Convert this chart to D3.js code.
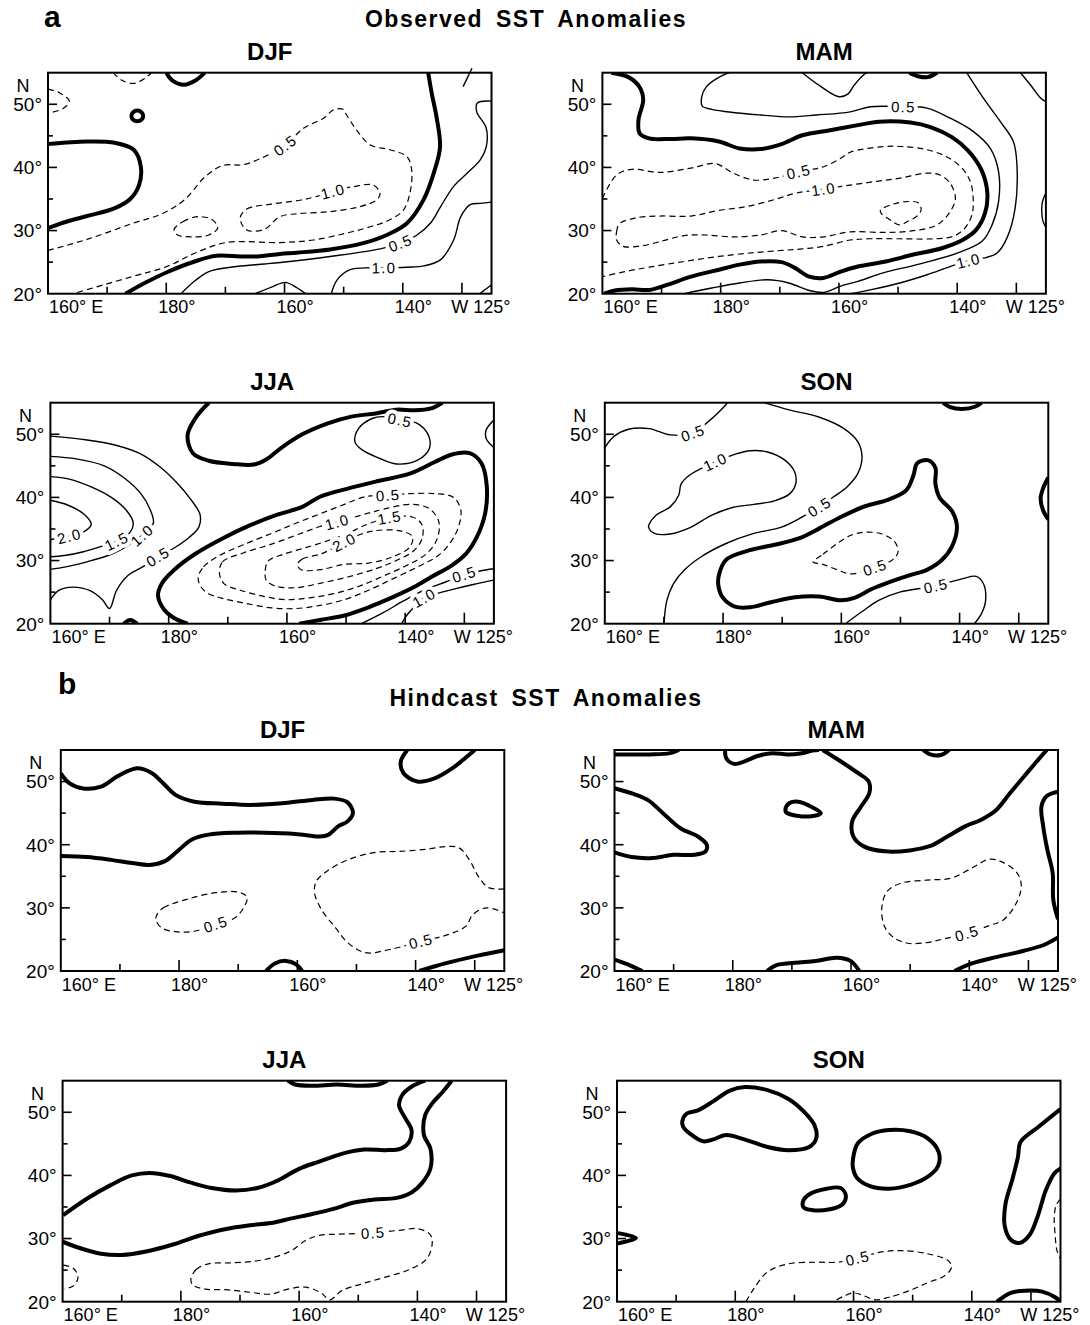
<!DOCTYPE html>
<html>
<head>
<meta charset="utf-8">
<script src="https://cdn.jsdelivr.net/npm/d3@7"></script>
<style>
body { margin: 0; background: #fff; }
svg text { font-family: "Liberation Sans", Arial, Helvetica, sans-serif; fill: #000; }
</style>
</head>
<body>
<svg width="1090" height="1325"></svg>
<script>
// contours, as [lon (deg E), lat (deg N)]
// kind: zero = heavy line, pos = thin solid, neg = dashed
var seasons = ["DJF", "MAM", "JJA", "SON"];
var lonLabelAt = [160, 180, 200, 220, 235];
var lonLabels = ["160\u00b0 E", "180\u00b0", "160\u00b0", "140\u00b0", "W 125\u00b0"];
var lonTicks = [170, 180, 190, 200, 210, 220, 230];
var latTicks = [25, 30, 35, 40, 45, 50];
var latLabels = [20, 30, 40, 50];

var obsDJF = [
  {kind: "neg", pts: [[171,55],[172.5,53.8],[174.5,53.3],[176.5,54.2],[177.5,55]]},
  {kind: "zero", pts: [[180,55],[181,53.8],[183,53.1],[185,53.8],[186.5,55]]},
  {kind: "neg", pts: [[160,52.4],[162,51.8],[163.6,50.5],[162.5,49.3],[160,48.6]]},
  {kind: "zero", closed: true, pts: [[175.1,49.0],[175.8,48.75],[176.1,48.15],[175.8,47.55],[175.1,47.3],[174.4,47.55],[174.1,48.15],[174.4,48.75]]},
  {kind: "zero", pts: [[160,43.7],[166.6,44.1],[171.3,43.9],[174.5,42.8],[175.7,40.1],[175.4,37.2],[173.9,35.0],[171.3,33.55],[166.6,32.3],[163.1,31.4],[160,30.4]]},
  {kind: "neg", label: "0.5", labelAt: [200.1,43.5], pts: [[160,26.85],[166.6,28.6],[174.2,31.1],[179.5,32.75],[183.1,34.9],[186.6,38.55],[189.5,40.3],[193.1,40.45],[196.6,41.7],[200.1,43.5],[203.2,46.2],[206.6,47.8],[208.25,49.1],[209.9,49.2],[210.5,48.3],[212.2,45.9],[214.5,43.55],[217.8,42.8],[220.7,41.7],[221.5,39.6],[221.2,35.9],[220.1,33.25],[217.8,31.7],[214.5,30.6],[210.5,29.6],[204.9,28.5],[199.2,28.1],[190.1,28.1],[184.8,26.4],[180.1,24.3],[174.2,22.7],[164.2,20]]},
  {kind: "neg", closed: true, label: "1.0", labelAt: [208.2,36.2], pts: [[192.5,31.96],[193.6,33.4],[197.8,34.2],[202.6,34.8],[205.4,35.4],[208.2,36.2],[211.6,36.95],[215.0,37.2],[216.15,35.9],[215.6,34.85],[212.8,33.8],[207.7,33.0],[202.6,32.7],[199.2,32.2],[196.6,30.2],[193.6,30.1]]},
  {kind: "neg", closed: true, pts: [[181.3,30.1],[182.8,31.4],[185.4,32.2],[187.8,31.7],[188.7,30.4],[187.2,29.3],[184.2,29.0],[181.9,29.3]]},
  {kind: "zero", pts: [[173.1,20],[176.6,21.8],[180.1,23.4],[184.8,25.1],[188.4,26.0],[192.5,25.9],[195.4,25.9],[199.2,26.3],[202.1,26.5],[207.7,27.0],[213.3,28.0],[217.3,29.3],[220.7,31.15],[223.5,34.85],[225.4,39.6],[226.3,43.3],[225.7,48.0],[224.9,51.7],[224.3,55]]},
  {kind: "pos", label: "0.5", labelAt: [219.6,28.0], pts: [[182.5,20],[184.8,22.0],[187.2,23.5],[191.9,24.3],[196.6,24.7],[199.3,24.95],[207.7,25.9],[216.2,27.1],[219.6,28.0],[222.4,29.3],[224.7,31.2],[226.4,33.8],[228.6,37.0],[230.9,39.1],[233.1,41.2],[234.1,43.2],[234.1,46.25],[232.5,48.8],[232.6,50.2],[235,50.5]]},
  {kind: "pos", label: "1.0", labelAt: [216.8,24.1], pts: [[207.9,20],[208.9,22.2],[211.1,23.8],[214.5,24.1],[216.8,24.1],[220.7,24.2],[223.5,24.4],[226.4,25.4],[228.6,28.5],[229.8,32.2],[231.4,34.1],[233.1,34.3],[235,34.5]]},
  {kind: "pos", pts: [[195,20],[197.8,21.05],[200.1,21.8],[201.9,21.05],[203.6,20]]},
  {kind: "pos", pts: [[233,20],[234,20.7],[235,21.4]]},
  {kind: "pos", noclip: true, pts: [[230.2,52.8],[231.7,55.7]]}
];

var obsMAM = [
  {kind: "zero", pts: [[161.5,55],[164.4,54.3],[166.3,52.7],[166.9,50.7],[166.1,47.5],[166.3,45.4],[167.9,44.6],[171.5,44.5],[175.0,44.6],[179.7,44.1],[183.2,43.0],[186.8,42.9],[190.3,43.7],[193.8,45.1],[198.5,45.9],[203.2,46.7],[206.8,47.25],[212.1,47.1],[215.6,46.35],[219.1,44.8],[221.8,42.7],[224.1,39.6],[225.1,35.9],[224.7,32.75],[223.2,30.1],[220.9,28.5],[217.4,27.2],[212.6,26.2],[207.9,25.1],[203.2,24.3],[200.3,23.5],[197.4,22.5],[195.0,22.7],[192.6,24.05],[190.3,25.0],[186.8,25.1],[183.2,24.6],[179.7,23.8],[175.0,22.7],[170.9,21.4],[167.9,20.6],[165.0,20.7],[162.1,20.5],[160.3,20]]},
  {kind: "pos", label: "0.5", labelAt: [210.9,49.6], pts: [[181.5,55],[179.4,54.1],[177.6,52.8],[176.8,51.2],[176.9,49.7],[178.5,49.2],[182.1,48.7],[186.8,48.3],[191.5,48.0],[196.2,48.3],[201.9,48.8],[205.3,49.6],[210.9,49.6],[214.9,49.4],[218.8,47.8],[222.7,45.7],[225.6,43.0],[227.0,39.3],[227.0,34.6],[225.9,30.9],[224.2,28.3],[219.9,26.4],[213.2,24.6],[207.5,23.3],[203.2,21.95],[200.3,21.2],[197.4,20.2],[195.0,20.5],[191.5,21.7],[187.9,22.2],[183.2,21.7],[178.5,20.9],[173.8,20]]},
  {kind: "pos", label: "1.0", labelAt: [221.9,25.2], pts: [[221.6,55],[224.4,51.0],[227.3,47.25],[229.5,44.1],[230.1,40.4],[229.8,33.55],[228.4,28.8],[226.7,26.4],[225.0,25.75],[221.9,25.2],[218.8,24.3],[214.9,23.0],[210.3,21.7],[205.3,20.6],[202,20]]},
  {kind: "pos", pts: [[193.8,55],[196.8,52.9],[200.0,51.2],[201.5,51.6],[202.6,53.05],[204.1,54.6],[204.7,55]]},
  {kind: "zero", pts: [[211.9,55],[213.5,54.4],[215,54.3],[216.6,55]]},
  {kind: "pos", pts: [[230.7,55],[232.4,53.05],[234.1,51.0],[235,50.4]]},
  {kind: "pos", pts: [[235,36],[234.4,34.5],[234.3,33],[234.5,31.5],[235,30.5]]},
  {kind: "neg", label: "0.5", labelAt: [193.2,39.3], pts: [[160,35.1],[162.4,38.8],[165.0,39.7],[169.7,39.2],[175.0,39.9],[179.1,40.6],[182.1,39.1],[185.6,38.0],[189.1,38.3],[193.2,39.3],[197.4,40.1],[200.3,41.45],[201.9,42.4],[207.5,43.3],[210.9,43.3],[214.9,42.8],[218.2,41.7],[220.8,39.9],[222.2,37.8],[222.7,35.1],[222.5,32.5],[221.3,30.4],[219.4,29.1],[216.0,28.7],[210.3,28.7],[205.3,28.7],[201.9,28.5],[197.4,27.5],[193.8,27.1],[190.3,26.85],[185.6,26.5],[179.7,25.9],[173.8,25.1],[167.9,24.2],[163.8,23.5],[160,22.7]]},
  {kind: "neg", closed: true, label: "1.0", labelAt: [197.4,36.55], pts: [[162.4,28.5],[162.4,29.8],[162.9,31.1],[165.6,32.0],[169.7,32.3],[175.0,32.3],[179.7,33.2],[184.4,33.8],[189.1,34.9],[192.6,35.9],[197.4,36.55],[201.9,37.2],[206.4,37.8],[210.3,38.3],[214.9,39.1],[217.1,38.8],[218.8,37.5],[219.7,35.1],[218.8,33.0],[216.6,30.9],[212.0,29.9],[207.5,29.7],[201.9,29.8],[197.4,29.0],[193.8,29.0],[190.3,30.0],[186.8,29.3],[182.1,29.0],[177.4,29.3],[173.8,29.2],[170.3,28.4],[166.8,27.6],[163.5,27.5]]},
  {kind: "neg", closed: true, pts: [[207.0,33.2],[209.2,34.2],[211.75,34.6],[213.4,34.4],[213.9,33.3],[213.2,32.3],[211.5,31.4],[210.2,30.9],[208.65,31.7],[207.25,32.6]]}
];

var obsJJA = [
  {kind: "zero", pts: [[186.8,55],[184.7,52.8],[183.2,49.9],[184.1,47.0],[186.8,45.8],[190.9,45.3],[194.4,45.2],[196.5,46.0],[199.1,47.9],[202.6,50.0],[206.8,51.7],[210.9,52.8],[215.0,53.3],[218.5,53.9],[221.5,53.8],[224.4,54.1],[226.3,55]]},
  {kind: "zero", pts: [[183.2,20],[180.9,20.9],[179.1,22.4],[178.2,24.5],[178.8,26.3],[180.9,28.5],[184.4,31.0],[189.1,33.5],[193.8,35.6],[198.5,37.3],[202.6,38.5],[205.6,40.1],[210.3,41.4],[215.0,42.5],[220.9,43.8],[225.0,45.6],[227.9,46.8],[230.9,47.0],[232.9,45.4],[233.8,41.7],[233.5,37.4],[232.1,33.7],[230.3,31.1],[227.9,29.25],[224.4,27.4],[221.5,25.8],[217.9,24.2],[213.8,22.6],[209.7,21.3],[205.6,20.6],[202.1,20]]},
  {kind: "zero", pts: [[172.4,20],[173.5,20.6],[174.7,20]]},
  {kind: "pos", closed: true, label: "0.5", labelAt: [219.1,52.25], pts: [[211.5,48.8],[212.1,50.9],[214.4,52.5],[216.2,52.8],[219.1,52.25],[222.1,51.7],[223.9,49.9],[224.1,47.8],[222.1,45.9],[218.5,45.3],[215.6,46.2],[212.6,47.6]]},
  {kind: "pos", pts: [[235,52.25],[233.7,50.7],[233.7,49.3],[235,47.9]]},
  {kind: "pos", label: "0.5", labelAt: [178.2,30.6], pts: [[160,49.7],[166.2,49.1],[170.9,48.3],[175.0,47.0],[178.5,44.85],[181.5,42.2],[183.8,39.6],[185.3,37.3],[185.1,35.3],[183.5,33.7],[181.2,32.15],[178.2,30.6],[175.6,29.0],[173.2,27.7],[171.2,25.3],[170.0,22.4],[168.8,23.8],[166.8,25.2],[163.8,25.8],[161.5,25.3],[160.3,24.2],[160,23.7]]},
  {kind: "pos", label: "1.0", labelAt: [175.5,34.0], pts: [[160,46.5],[164.4,46.1],[169.1,45.0],[172.6,43.0],[175.3,40.6],[176.9,38.0],[177.4,35.9],[175.5,34.0],[173.2,32.4],[170.3,31.0],[166.2,29.8],[162.6,29.0],[160,28.6]]},
  {kind: "pos", label: "1.5", labelAt: [171.2,33.05], pts: [[160,43.3],[163.2,42.9],[166.8,41.7],[170.3,40.0],[172.8,38.0],[174.0,36.0],[173.5,34.5],[171.2,33.05],[168.5,32.2],[165.6,31.4],[162.4,30.8],[160,30.6]]},
  {kind: "pos", label: "2.0", labelAt: [163.2,33.85], pts: [[160,39.55],[162.9,38.8],[165.6,37.4],[166.9,35.75],[165.9,34.7],[163.2,33.85],[160.9,33.5],[160,33.3]]},
  {kind: "neg", closed: true, label: "0.5", labelAt: [217.1,40.35], pts: [[185.0,27.4],[185.9,29.0],[188.2,30.6],[192.6,32.5],[197.4,34.3],[201.5,35.9],[205.6,37.4],[209.7,38.9],[213.2,40.1],[217.1,40.35],[220.9,40.6],[225.0,40.6],[228.2,40.0],[229.4,38.0],[229.1,35.6],[227.9,33.2],[225.6,30.8],[222.1,29.0],[217.9,27.1],[213.8,25.3],[209.7,23.8],[205.6,22.9],[201.5,22.4],[197.4,22.5],[192.6,23.3],[189.1,24.0],[186.5,24.9],[185.3,26.1]]},
  {kind: "neg", closed: true, label: "1.0", labelAt: [208.5,36.1], pts: [[188.6,27.9],[189.1,29.8],[192.6,31.2],[197.4,32.6],[202.1,34.2],[205.6,35.4],[208.5,36.1],[212.6,37.2],[216.2,38.1],[220.9,38.9],[224.1,38.2],[225.7,36.1],[225.3,33.2],[223.5,31.0],[220.3,29.25],[216.2,27.5],[212.1,25.9],[207.9,24.75],[203.8,24.1],[199.7,23.8],[196.2,24.3],[192.1,25.3],[189.4,26.3]]},
  {kind: "neg", closed: true, label: "1.5", labelAt: [217.35,36.8], pts: [[196.3,27.9],[196.8,29.9],[199.4,31.0],[203.2,32.05],[207.1,33.2],[210.3,34.3],[213.2,35.6],[217.35,36.8],[221.2,36.9],[222.8,35.75],[222.9,33.6],[221.5,31.6],[218.5,30.0],[215.0,28.7],[210.3,27.4],[205.6,26.4],[201.5,25.7],[197.9,26.0],[196.5,26.9]]},
  {kind: "neg", closed: true, label: "2.0", labelAt: [209.7,32.9], pts: [[201.8,29.4],[202.6,30.25],[205.9,31.1],[209.7,32.9],[212.6,34.2],[215.6,34.8],[219.1,34.7],[221.2,33.85],[220.8,32.15],[217.9,30.6],[213.8,29.6],[209.7,29.4],[205.6,28.55],[202.4,28.55]]},
  {kind: "pos", label: "0.5", labelAt: [230.0,27.8], pts: [[212.6,20],[216.2,21.7],[219.7,23.6],[223.2,25.3],[226.8,26.6],[230.0,27.8],[232.6,28.35],[235,28.7]]},
  {kind: "pos", label: "1.0", labelAt: [223.2,24.1], pts: [[219.4,20],[220.4,21.5],[221.8,22.9],[223.2,24.1],[225.3,24.75],[227.9,25.4],[231.5,26.2],[235,26.9]]}
];

var obsSON = [
  {kind: "pos", label: "0.5", labelAt: [174.9,50.2], pts: [[160,47.9],[161.6,49.7],[164.0,50.8],[167.5,50.9],[171.05,49.9],[174.9,50.2],[177.5,52.0],[179.6,53.8],[180.75,55]]},
  {kind: "pos", label: "0.5", labelAt: [196.3,38.5], pts: [[186.9,55],[191.0,53.9],[196.3,52.7],[200.45,50.9],[202.8,48.8],[203.5,46.4],[202.8,43.8],[201.0,41.7],[198.7,40.1],[196.3,38.5],[193.4,36.9],[189.9,35.3],[185.2,34.3],[180.5,32.7],[176.3,30.6],[173.4,28.45],[171.6,26.3],[170.5,23.7],[170.0,20]]},
  {kind: "pos", closed: true, label: "1.0", labelAt: [178.7,45.6], pts: [[167.5,35.75],[168.7,37.2],[171.05,38.5],[172.5,40.35],[172.9,42.1],[174.3,43.5],[178.7,45.6],[182.2,46.9],[184.6,47.4],[187.5,47.2],[190.45,45.9],[192.1,44.05],[192.3,42.2],[191.3,40.6],[188.7,39.45],[185.2,38.9],[181.6,38.4],[178.1,37.2],[174.6,35.3],[171.05,34.2],[168.4,34.3],[167.4,35.3]]},
  {kind: "zero", closed: true, pts: [[179.3,27.7],[180.5,30.1],[184.0,31.5],[188.7,32.5],[192.8,33.5],[196.3,35.1],[199.9,36.9],[204.0,38.6],[208.1,39.7],[211.0,41.15],[212.2,43.5],[212.8,45.4],[214.6,45.9],[215.9,44.7],[215.9,42.2],[216.6,40.0],[218.8,37.7],[219.55,35.3],[218.7,32.2],[216.9,30.0],[214.3,28.45],[211.6,27.7],[208.1,26.6],[205.15,25.5],[202.2,24.1],[199.9,23.7],[196.3,24.3],[192.2,24.2],[188.1,23.4],[184.6,22.6],[182.0,22.7],[179.9,24.2],[179.2,26.1]]},
  {kind: "neg", closed: true, label: "0.5", labelAt: [205.7,28.9], pts: [[195.2,29.8],[196.9,31.0],[199.3,32.7],[201.6,34.0],[204.0,34.5],[206.9,34.2],[209.0,33.0],[209.6,31.4],[208.7,30.15],[205.7,28.9],[201.6,27.9],[199.3,28.55],[196.9,29.4]]},
  {kind: "pos", label: "0.5", labelAt: [216.0,26.0], pts: [[200.7,20],[203.4,21.85],[206.3,23.7],[209.85,25.0],[216.0,26.0],[220.4,27.1],[222.8,27.5],[224.0,26.4],[224.4,23.7],[223.7,21.6],[222.5,20]]},
  {kind: "zero", pts: [[217.2,55],[218.4,54.3],[220.4,54.0],[222.7,54.4],[223.7,55]]},
  {kind: "zero", pts: [[235,43.15],[234.1,41.4],[233.7,39.8],[234.1,38.0],[235,36.5]]}
];

var hindDJF = [
  {kind: "zero", pts: [[160,51.3],[161.5,49.7],[163.8,48.9],[166.8,49.2],[169.7,50.9],[172.9,52.1],[175.3,51.4],[177.35,49.7],[179.4,47.9],[182.6,46.8],[187.35,46.5],[192.05,46.3],[197.9,46.6],[202.6,47.1],[206.2,47.3],[208.5,46.7],[209.4,45.0],[208.5,43.7],[206.9,42.9],[205.3,41.6],[203.8,41.3],[199.7,41.7],[194.4,41.9],[189.7,41.9],[185.0,41.6],[182.1,40.8],[179.7,38.95],[177.6,37.4],[175.0,36.8],[172.05,37.1],[168.5,37.6],[164.4,38.05],[160,38.2]]},
  {kind: "zero", pts: [[218.6,55],[217.5,53.2],[217.9,51.4],[220.3,50.0],[223.2,50.5],[226.2,52.1],[228.5,53.8],[230,55]]},
  {kind: "zero", pts: [[194.7,20],[196.2,21.2],[198.1,21.6],[199.8,21.05],[200.8,20]]},
  {kind: "zero", pts: [[220.6,20],[225.0,21.2],[230.3,22.4],[235,23.3]]},
  {kind: "neg", closed: true, label: "0.5", labelAt: [186.2,27.4], pts: [[176.2,28.8],[177.35,30.0],[181.5,31.4],[186.2,32.4],[190.0,32.5],[191.5,31.7],[190.9,30.0],[189.4,28.4],[186.2,27.4],[182.6,26.3],[179.7,26.2],[177.1,26.8],[176.1,28.05]]},
  {kind: "neg", label: "0.5", labelAt: [220.9,24.7], pts: [[235,33.0],[232.35,33.2],[230.6,35.0],[229.1,37.6],[227.35,39.5],[225.0,39.7],[222.05,39.3],[217.35,38.95],[213.2,38.8],[208.5,37.6],[205.0,35.8],[203.2,34.2],[202.9,32.4],[204.1,29.7],[206.5,26.8],[208.5,24.5],[211.5,22.9],[215.6,23.4],[220.9,24.7],[225.6,25.8],[228.5,27.1],[229.7,28.95],[232.05,30.0],[235,29.2]]}
];

var hindMAM = [
  {kind: "zero", pts: [[160,54.3],[165.9,54.3],[169.4,54.5],[170.9,55]]},
  {kind: "zero", pts: [[178.7,55],[178.9,53.7],[180.2,52.8],[182.0,53.2],[184.2,54.05],[186.7,54.5],[189.3,54.3],[191.7,54.5],[193.45,54.9],[194.6,55]]},
  {kind: "zero", pts: [[195.2,55],[198.1,53.3],[201.1,51.4],[203.0,50.0],[203.1,48.2],[201.7,46.05],[200.2,43.7],[200.4,41.3],[202.25,39.7],[205.8,38.95],[209.9,39.1],[213.4,39.8],[216.3,41.3],[219.3,42.9],[222.2,44.05],[224.55,45.5],[226.9,48.2],[229.25,50.8],[231.6,53.4],[233.1,55]]},
  {kind: "zero", pts: [[160,48.95],[163.2,48.05],[165.6,47.1],[168.2,45.0],[171.15,42.6],[174.1,41.3],[175.6,40.0],[175.4,38.95],[173.5,38.4],[170.0,38.4],[166.5,37.9],[162.9,38.05],[160,38.8]]},
  {kind: "zero", closed: true, pts: [[188.9,45.6],[189.6,46.6],[191.1,46.8],[193.2,46.05],[194.9,45.0],[193.3,44.5],[190.8,44.6],[189.05,45.1]]},
  {kind: "zero", pts: [[235,48.4],[233.1,47.7],[232.2,46.05],[232.5,42.9],[233.2,39.2],[234.1,35.5],[234.2,31.3],[235,28.2]]},
  {kind: "zero", pts: [[217.5,20],[220.45,21.2],[224.55,22.2],[229.25,23.2],[232.8,24.2],[235,25.3]]},
  {kind: "zero", pts: [[185.8,20],[187.3,20.9],[190.5,21.3],[194.0,21.6],[197.6,22.1],[199.9,21.6],[201.4,20]]},
  {kind: "zero", pts: [[160,21.8],[162.6,20.9],[164.7,20]]},
  {kind: "zero", pts: [[212.2,55],[213.4,54.3],[215.2,54.2],[216.6,55]]},
  {kind: "neg", closed: true, label: "0.5", labelAt: [219.6,25.95], pts: [[205.2,30.0],[206.1,32.6],[208.4,33.9],[212.8,34.4],[216.9,34.7],[220.45,36.3],[223.4,37.7],[225.7,37.2],[228.1,35.5],[228.8,33.4],[227.8,30.5],[225.7,28.05],[223.4,27.2],[219.6,25.95],[215.75,25.1],[212.8,24.5],[209.6,24.4],[207.2,25.3],[205.65,27.1]]}
];

var hindJJA = [
  {kind: "zero", pts: [[160.1,33.7],[164.1,36.3],[168.2,38.5],[171.7,40.0],[174.7,40.4],[178.2,39.9],[181.7,38.85],[185.2,38.0],[189.3,37.6],[192.9,38.0],[196.4,39.2],[199.9,41.0],[203.4,42.2],[207.5,43.5],[211.05,44.1],[214.6,44.0],[217.2,44.25],[218.6,45.3],[219.0,47.2],[218.0,49.0],[216.9,51.1],[217.4,52.7],[219.0,54.05],[221.3,55]]},
  {kind: "zero", pts: [[160,29.5],[162.9,28.5],[166.5,27.6],[170.0,27.4],[174.1,27.95],[178.8,29.1],[182.9,30.4],[187.0,31.4],[191.7,32.1],[195.2,32.45],[198.7,33.2],[202.25,33.9],[205.8,34.7],[209.3,35.7],[212.8,36.2],[216.3,36.4],[219.0,37.3],[220.7,38.7],[222.2,41.1],[222.2,44.25],[221.1,46.4],[221.3,49.5],[222.5,51.4],[224.3,53.25],[225.8,55]]},
  {kind: "zero", pts: [[198.1,55],[199.3,54.4],[202.25,54.2],[206.4,54.4],[210.5,54.2],[213.4,54.4],[214.9,55]]},
  {kind: "neg", closed: true, label: "0.5", labelAt: [212.5,30.9], pts: [[181.7,23.6],[182.6,25.1],[184.65,26.0],[188.2,26.15],[192.3,26.4],[195.8,27.05],[198.7,28.1],[201.1,29.7],[203.4,30.5],[206.9,30.7],[212.5,30.9],[216.9,31.3],[220.15,31.55],[222.2,30.6],[222.5,29.2],[221.6,26.8],[218.7,25.1],[214.6,23.9],[210.5,22.8],[207.2,21.75],[205.2,20.3],[203.7,21.4],[201.1,22.3],[198.1,22.0],[195.2,21.2],[191.7,21.5],[187.6,21.9],[184.1,22.0],[182.0,22.65]]},
  {kind: "neg", pts: [[160.1,25.8],[161.8,25.3],[162.6,23.9],[161.9,22.55],[160.3,22.0]]}
];

var hindSON = [
  {kind: "zero", closed: true, pts: [[171.05,48.6],[171.8,49.8],[173.7,50.3],[176.05,51.6],[179.0,53.4],[181.6,54.0],[185.45,53.5],[189.0,52.1],[191.6,50.1],[193.4,47.95],[193.7,45.9],[192.5,44.5],[189.0,44.0],[185.45,44.5],[181.9,45.6],[178.4,46.4],[176.3,45.7],[174.6,45.4],[172.5,46.5],[171.2,47.7]]},
  {kind: "zero", closed: true, pts: [[199.9,42.55],[200.7,45.05],[203.1,46.6],[206.0,47.2],[209.6,47.0],[212.5,45.9],[214.4,43.7],[214.3,41.5],[212.5,39.75],[209.6,38.5],[206.0,37.9],[202.8,38.3],[200.6,39.6],[199.9,41.2]]},
  {kind: "zero", closed: true, pts: [[191.45,35.9],[192.6,37.05],[195.45,37.9],[197.8,38.0],[198.7,36.8],[198.1,35.4],[195.75,34.6],[193.1,34.5],[191.6,34.9]]},
  {kind: "zero", pts: [[235,50.5],[231.3,47.7],[228.25,45.3],[227.8,42.9],[226.9,39.5],[225.7,35.5],[225.55,32.1],[226.6,29.8],[228.1,29.3],[229.8,30.6],[231.2,33.7],[232.5,37.6],[233.95,40.3],[235,41.1]]},
  {kind: "zero", pts: [[224.25,20],[226.6,21.4],[229.0,21.75],[231.9,21.6],[234.1,20.7],[235,20]]},
  {kind: "zero", pts: [[160,30.9],[163.2,30.1],[160,29.2]]},
  {kind: "neg", label: "0.5", labelAt: [200.7,26.9], pts: [[181.8,20],[183.1,22.0],[185.45,24.7],[189.0,26.0],[193.7,26.25],[197.2,26.25],[200.7,26.9],[204.3,27.8],[207.8,28.1],[212.5,27.6],[216.0,26.5],[216.6,25.5],[215.4,24.1],[212.5,23.0],[209.6,21.8],[206.0,20.7],[203.7,20.3],[201.3,21.1],[199.9,21.4],[198.4,20.9],[196.6,20]]},
  {kind: "neg", pts: [[235,36.3],[234.25,35.25],[233.95,33.4],[234.1,30.5],[234.4,28.1],[235,26.8]]}
];

var svg = d3.select("svg");
var W = 443.5, H = 221;
var x = d3.scaleLinear().domain([160, 235]).range([0, W]);
var y = d3.scaleLinear().domain([20, 55]).range([H, 0]);

// panel placement on the page
var panels = [
  {data: obsDJF, season: 0, left: 48, top: 72.7},
  {data: obsMAM, season: 1, left: 602.4, top: 72.7},
  {data: obsJJA, season: 2, left: 50.4, top: 402.7},
  {data: obsSON, season: 3, left: 604.8, top: 402.7},
  {data: hindDJF, season: 0, left: 60.8, top: 750},
  {data: hindMAM, season: 1, left: 614.5, top: 750},
  {data: hindJJA, season: 2, left: 62.6, top: 1080.7},
  {data: hindSON, season: 3, left: 617, top: 1080.7}
];

// headings
function heading(letter, lx, ly, title, tx, ty) {
  svg.append("text").attr("x", lx).attr("y", ly)
    .attr("font-size", 30).attr("font-weight", "bold").text(letter);
  svg.append("text").attr("x", tx).attr("y", ty).attr("text-anchor", "middle")
    .attr("font-size", 23).attr("font-weight", "bold")
    .attr("letter-spacing", 1.5).attr("word-spacing", 5).text(title);
}
heading("a", 44, 27, "Observed SST Anomalies", 526, 27);
heading("b", 58, 694, "Hindcast SST Anomalies", 546, 706);

function labelAngle(c) {
  var px = x(c.labelAt[0]), py = y(c.labelAt[1]);
  var best = 0, bd = Infinity;
  c.pts.forEach(function(p, i) {
    var d = Math.pow(x(p[0]) - px, 2) + Math.pow(y(p[1]) - py, 2);
    if (d < bd) { bd = d; best = i; }
  });
  var a = c.pts[Math.max(0, best - 1)], b = c.pts[Math.min(c.pts.length - 1, best + 1)];
  var ang = Math.atan2(y(b[1]) - y(a[1]), x(b[0]) - x(a[0])) * 180 / Math.PI;
  if (ang > 90) ang -= 180;
  if (ang < -90) ang += 180;
  return ang;
}

panels.forEach(function(p, i) {
  var g = svg.append("g").attr("transform", "translate(" + p.left + "," + p.top + ")");

  g.append("clipPath").attr("id", "clip" + i)
    .append("rect").attr("width", W).attr("height", H);

  g.append("text").attr("x", W / 2).attr("y", -12.5).attr("text-anchor", "middle")
    .attr("font-size", 24).attr("font-weight", "bold").text(seasons[p.season]);

  var plot = g.append("g").attr("clip-path", "url(#clip" + i + ")");
  var free = g.append("g");

  p.data.forEach(function(c) {
    var line = d3.line()
      .x(function(d) { return x(d[0]); })
      .y(function(d) { return y(d[1]); })
      .curve(c.closed ? d3.curveCatmullRomClosed.alpha(0.5) : d3.curveCatmullRom.alpha(0.5));
    (c.noclip ? free : plot).append("path")
      .attr("d", line(c.pts))
      .attr("fill", "none")
      .attr("stroke", "#000")
      .attr("stroke-width", c.kind == "zero" ? 4 : (c.kind == "pos" ? 1.4 : 1.2))
      .attr("stroke-dasharray", c.kind == "neg" ? "6,4" : null)
      .attr("stroke-linejoin", "round");
  });

  // contour labels, with a white halo that breaks the line
  p.data.filter(function(c) { return c.label; }).forEach(function(c) {
    var ang = labelAngle(c);
    g.append("text")
      .attr("transform", "translate(" + x(c.labelAt[0]) + "," + y(c.labelAt[1]) + ") rotate(" + ang + ")")
      .attr("text-anchor", "middle").attr("dy", "0.36em")
      .attr("font-size", 15).attr("letter-spacing", 1.2)
      .attr("stroke", "#fff").attr("stroke-width", 8).attr("stroke-linejoin", "round")
      .attr("paint-order", "stroke")
      .text(c.label);
  });

  // frame
  g.append("rect").attr("width", W).attr("height", H)
    .attr("fill", "none").attr("stroke", "#000").attr("stroke-width", 2);

  // bottom ticks (pointing inward)
  g.selectAll(".xt").data(lonTicks).enter().append("line")
    .attr("x1", function(d) { return x(d); }).attr("x2", function(d) { return x(d); })
    .attr("y1", H).attr("y2", function(d) { return H - (lonLabelAt.indexOf(d) >= 0 || d == 230 ? 11 : 7); })
    .attr("stroke", "#000").attr("stroke-width", 1.6);

  // left ticks
  g.selectAll(".yt").data(latTicks).enter().append("line")
    .attr("x1", 0).attr("x2", function(d) { return d % 10 == 0 ? 9 : 5; })
    .attr("y1", function(d) { return y(d); }).attr("y2", function(d) { return y(d); })
    .attr("stroke", "#000").attr("stroke-width", 1.6);

  // x labels
  lonLabels.forEach(function(t, k) {
    var lon = lonLabelAt[k];
    var tx = g.append("text").attr("y", H + 19.5).attr("font-size", 18).text(t);
    if (k == 0) tx.attr("x", x(lon) + 1);
    else if (k == lonLabels.length - 1) tx.attr("x", x(lon) + 19).attr("text-anchor", "end");
    else tx.attr("x", x(lon) - 8);
  });

  // y labels
  latLabels.forEach(function(lat) {
    g.append("text").attr("x", -6).attr("y", y(lat)).attr("dy", "0.36em")
      .attr("text-anchor", "end").attr("font-size", 19).text(lat + "\u00b0");
  });
  g.append("text").attr("x", -25).attr("y", 19).attr("text-anchor", "middle")
    .attr("font-size", 18).text("N");
});
</script>
</body>
</html>
